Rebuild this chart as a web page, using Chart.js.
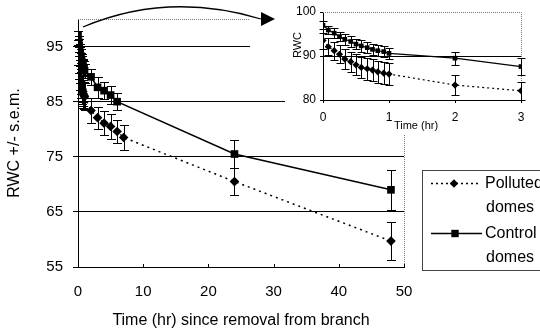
<!DOCTYPE html>
<html>
<head>
<meta charset="utf-8">
<script src="https://cdn.jsdelivr.net/npm/chart.js@4.4.0/dist/chart.umd.min.js"></script>
<style>
  html, body { margin: 0; padding: 0; background: #fff; }
  #wrap { position: relative; width: 540px; height: 333px; overflow: hidden; }
  #main_chart { position: absolute; left: 0; top: 0; }
  #inset_chart { position: absolute; left: 285px; top: 0; background: #fff; }
</style>
</head>
<body>
<div id="wrap">
  <canvas id="main_chart" width="540" height="333"></canvas>
  <canvas id="inset_chart" width="255" height="135"></canvas>
</div>
<script>
'use strict';
// RWC of detached branches, polluted vs control domes, with a zoomed inset of the first 3 hours

// data
var seriesNames = ['Polluted domes', 'Control domes'];

var pollutedHours = [0, 0.08, 0.17, 0.25, 0.33, 0.42, 0.5, 0.58, 0.67, 0.75, 0.83, 0.92, 1, 2, 3, 4, 5, 6, 7, 24, 48];
var pollutedRwc = [93.5, 92.1, 91.2, 90.4, 89.3, 88.7, 88.0, 87.4, 87.1, 86.8, 86.4, 86.1, 85.9, 83.4, 82.1, 81.1, 80.5, 79.6, 78.5, 70.5, 59.7];
var pollutedSem = [1.8, 1.9, 2.0, 2.1, 2.2, 2.3, 2.4, 2.4, 2.5, 2.5, 2.5, 2.5, 2.5, 2.3, 2.0, 2.2, 2.3, 2.1, 2.2, 2.4, 3.5];

var controlHours = [0, 0.08, 0.17, 0.25, 0.33, 0.42, 0.5, 0.58, 0.67, 0.75, 0.83, 0.92, 1, 2, 3, 4, 5, 6, 24, 48];
var controlRwc = [97.0, 95.9, 95.2, 94.4, 93.8, 93.3, 92.7, 92.3, 91.9, 91.5, 91.2, 91.0, 90.6, 89.5, 87.6, 87.0, 86.2, 85.0, 75.5, 69.0];
var controlSem = [0.9, 1.0, 1.1, 1.1, 1.2, 1.2, 1.2, 1.3, 1.3, 1.3, 1.3, 1.3, 1.3, 1.45, 1.9, 1.5, 1.6, 1.6, 2.6, 3.6];

var mainXTicks = [0, 10, 20, 30, 40, 50];
var mainYTicks = [55, 65, 75, 85, 95];
var insetXTicks = [0, 1, 2, 3];
var insetYTicks = [80, 90, 100];

var FONT = '"Liberation Sans", Arial, sans-serif';
Chart.defaults.color = '#000';
Chart.defaults.font.family = FONT;

// keep points up to maxHour, with their s.e.m.
function makeSeries(hours, rwc, sem, maxHour) {
  var pts = [];
  var errs = [];
  for (var i = 0; i < hours.length; i++) {
    if (hours[i] <= maxHour) {
      pts.push({x: hours[i], y: rwc[i]});
      errs.push(sem[i]);
    }
  }
  return {data: pts, sem: errs};
}

function fixTicks(list) {
  return function(scale) {
    scale.ticks = list.map(function(v) { return {value: v}; });
  };
}

// vertical error bars with caps, from the dataset's sem list
var errorBarPlugin = {
  id: 'errorBars',
  beforeDatasetsDraw: function(chart, args, opts) {
    var ctx = chart.ctx;
    var yScale = chart.scales.y;
    ctx.save();
    ctx.strokeStyle = '#000';
    ctx.lineWidth = 1;
    chart.data.datasets.forEach(function(ds, d) {
      var meta = chart.getDatasetMeta(d);
      meta.data.forEach(function(pt, i) {
        var v = ds.data[i].y;
        var top = Math.round(yScale.getPixelForValue(v + ds.sem[i])) + 0.5;
        var bot = Math.round(yScale.getPixelForValue(v - ds.sem[i])) + 0.5;
        var x = Math.round(pt.x) + 0.5;
        ctx.beginPath();
        ctx.moveTo(x, top);
        ctx.lineTo(x, bot);
        ctx.moveTo(x - opts.cap, top);
        ctx.lineTo(x + opts.cap, top);
        ctx.moveTo(x - opts.cap, bot);
        ctx.lineTo(x + opts.cap, bot);
        ctx.stroke();
      });
    });
    ctx.restore();
  }
};

// dotted top/right frame, plus small inward x ticks on the main chart
var framePlugin = {
  id: 'frame',
  beforeDatasetsDraw: function(chart, args, opts) {
    var ctx = chart.ctx;
    var a = chart.chartArea;
    ctx.save();
    ctx.strokeStyle = '#777';
    ctx.lineWidth = 1;
    ctx.setLineDash([1, 1]);
    ctx.beginPath();
    ctx.moveTo(a.left, Math.round(a.top) + 0.5);
    ctx.lineTo(Math.round(a.right) + 0.5, Math.round(a.top) + 0.5);
    ctx.lineTo(Math.round(a.right) + 0.5, a.bottom);
    ctx.stroke();
    ctx.setLineDash([]);
    if (opts.innerTicks) {
      ctx.strokeStyle = '#000';
      ctx.beginPath();
      opts.innerTicks.forEach(function(v) {
        var x = Math.round(chart.scales.x.getPixelForValue(v)) + 0.5;
        ctx.moveTo(x, a.bottom);
        ctx.lineTo(x, a.bottom - 3);
      });
      ctx.stroke();
    }
    if (opts.mask) {
      ctx.fillStyle = '#fff';
      ctx.fillRect(opts.mask[0], opts.mask[1], opts.mask[2], opts.mask[3]);
    }
    ctx.restore();
  }
};

function drawMarker(ctx, style, x, y, r) {
  ctx.beginPath();
  if (style === 'rectRot') {
    ctx.moveTo(x, y - r);
    ctx.lineTo(x + r, y);
    ctx.lineTo(x, y + r);
    ctx.lineTo(x - r, y);
  } else {
    ctx.rect(x - r, y - r, 2 * r, 2 * r);
  }
  ctx.closePath();
  ctx.fill();
}

// arrow to the inset and the boxed legend
var annotatePlugin = {
  id: 'annotate',
  afterDraw: function(chart) {
    var ctx = chart.ctx;
    ctx.save();
    ctx.strokeStyle = '#000';
    ctx.fillStyle = '#000';
    ctx.lineWidth = 1.3;
    ctx.beginPath();
    ctx.moveTo(83, 27);
    ctx.quadraticCurveTo(168, -9, 261, 19);
    ctx.stroke();
    ctx.beginPath();
    ctx.moveTo(275, 19);
    ctx.lineTo(261, 12);
    ctx.lineTo(261, 26);
    ctx.closePath();
    ctx.fill();

    // legend box
    ctx.lineWidth = 1;
    ctx.strokeStyle = '#444';
    ctx.strokeRect(422.5, 170.5, 130, 100);
    ctx.strokeStyle = '#000';
    ctx.lineWidth = 1.3;
    ctx.setLineDash([2, 3]);
    ctx.beginPath();
    ctx.moveTo(431, 183.5);
    ctx.lineTo(479, 183.5);
    ctx.stroke();
    ctx.setLineDash([]);
    ctx.beginPath();
    ctx.moveTo(431, 233.5);
    ctx.lineTo(482, 233.5);
    ctx.stroke();
    drawMarker(ctx, 'rectRot', 454, 183.5, 4.3);
    drawMarker(ctx, 'rect', 455, 233.5, 3.7);

    ctx.font = '16px ' + FONT;
    ctx.textAlign = 'left';
    ctx.textBaseline = 'alphabetic';
    var p = seriesNames[0].split(' ');
    var c = seriesNames[1].split(' ');
    ctx.fillText(p[0], 485, 188);
    ctx.fillText(p[1], 486, 212);
    ctx.fillText(c[0], 485, 238);
    ctx.fillText(c[1], 486, 262);
    ctx.restore();
  }
};

// inset axis titles
var insetTitlePlugin = {
  id: 'insetTitles',
  afterDraw: function(chart) {
    var ctx = chart.ctx;
    ctx.save();
    ctx.fillStyle = '#000';
    ctx.font = '11px ' + FONT;
    ctx.textAlign = 'center';
    ctx.textBaseline = 'middle';
    ctx.fillText('Time (hr)', 131, 126);
    ctx.translate(13, 45);
    ctx.rotate(-Math.PI / 2);
    ctx.fillText('RWC', 0, 0);
    ctx.restore();
  }
};

function buildDatasets(maxHour, sizes) {
  var pol = makeSeries(pollutedHours, pollutedRwc, pollutedSem, maxHour);
  var con = makeSeries(controlHours, controlRwc, controlSem, maxHour);
  return [
    {
      label: seriesNames[0],
      data: pol.data,
      sem: pol.sem,
      borderColor: '#000',
      borderWidth: sizes.line,
      borderDash: sizes.dash,
      pointStyle: 'rectRot',
      pointRadius: sizes.diamond,
      pointBackgroundColor: '#000',
      pointBorderColor: '#000',
      pointBorderWidth: 0,
      fill: false,
      tension: 0
    },
    {
      label: seriesNames[1],
      data: con.data,
      sem: con.sem,
      borderColor: '#000',
      borderWidth: sizes.line,
      pointStyle: 'rect',
      pointRadius: sizes.square,
      pointBackgroundColor: '#000',
      pointBorderColor: '#000',
      pointBorderWidth: 0,
      fill: false,
      tension: 0
    }
  ];
}

var mainChart = new Chart(document.getElementById('main_chart').getContext('2d'), {
  type: 'line',
  data: {datasets: buildDatasets(48, {line: 1.5, dash: [2, 4], diamond: 4.8, square: 5.4})},
  options: {
    responsive: false,
    animation: false,
    layout: {padding: {left: 0, top: 7, right: 136, bottom: 0}},
    plugins: {
      legend: {display: false},
      tooltip: {enabled: false},
      errorBars: {cap: 4.5},
      frame: {innerTicks: mainXTicks, mask: [250, 0, 40, 60]}
    },
    scales: {
      x: {
        type: 'linear',
        min: 0,
        max: 50,
        afterBuildTicks: fixTicks(mainXTicks),
        afterFit: function(s) { s.height = 66; },
        grid: {drawOnChartArea: false, drawTicks: false},
        border: {color: '#000', width: 1},
        ticks: {font: {size: 15}, padding: 16, maxRotation: 0},
        title: {display: true, text: 'Time (hr) since removal from branch', font: {size: 16}, padding: {top: 0, bottom: 3}}
      },
      y: {
        min: 55,
        max: 100,
        afterBuildTicks: fixTicks(mainYTicks),
        afterFit: function(s) { s.width = 78; },
        grid: {color: '#000', lineWidth: 1, tickLength: 5},
        border: {color: '#000', width: 1},
        ticks: {font: {size: 15}, padding: 10},
        title: {display: true, text: 'RWC +/- s.e.m.', font: {size: 16}, padding: {top: 5, bottom: 0}}
      }
    }
  },
  plugins: [framePlugin, errorBarPlugin, annotatePlugin]
});

var insetChart = new Chart(document.getElementById('inset_chart').getContext('2d'), {
  type: 'line',
  data: {datasets: buildDatasets(3, {line: 1.2, dash: [2, 3], diamond: 3.6, square: 3.3})},
  options: {
    responsive: false,
    animation: false,
    layout: {padding: {left: 0, top: 12, right: 19, bottom: 0}},
    plugins: {
      legend: {display: false},
      tooltip: {enabled: false},
      errorBars: {cap: 4},
      frame: {}
    },
    scales: {
      x: {
        type: 'linear',
        min: 0,
        max: 3,
        afterBuildTicks: fixTicks(insetXTicks),
        afterFit: function(s) { s.height = 35; },
        grid: {drawOnChartArea: false, color: '#000', tickLength: 3},
        border: {color: '#000', width: 1},
        ticks: {font: {size: 12}, padding: 7, maxRotation: 0}
      },
      y: {
        min: 80,
        max: 100,
        afterBuildTicks: fixTicks(insetYTicks),
        afterFit: function(s) { s.width = 38; },
        grid: {
          color: function(c) { return c.tick && c.tick.value === 100 ? 'rgba(0,0,0,0)' : '#000'; },
          tickColor: '#000',
          tickLength: 3
        },
        border: {color: '#000', width: 1},
        ticks: {font: {size: 12}, padding: 4}
      }
    }
  },
  plugins: [framePlugin, errorBarPlugin, insetTitlePlugin]
});
</script>
</body>
</html>
